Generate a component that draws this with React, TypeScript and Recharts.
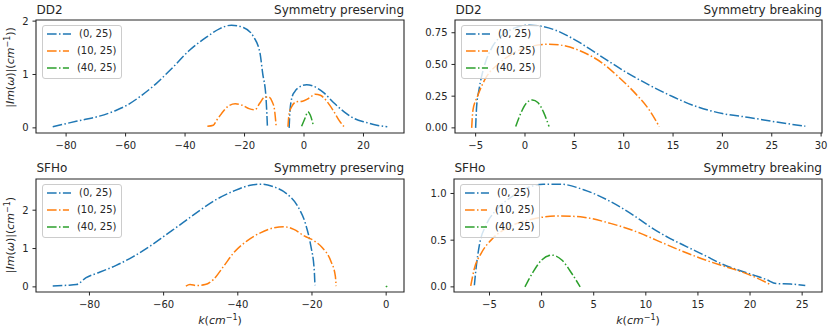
import React from 'react';
import { LineChart, Line, XAxis, YAxis, ReferenceArea, Legend } from 'recharts';

type Pt = [number, number];

// ---------- series ----------
const SERIES_LABELS = ['(0, 25)', '(10, 25)', '(40, 25)'];
const SERIES_COLORS = ['#1f77b4', '#ff7f0e', '#2ca02c'];

// ---------- DD2, symmetry preserving ----------
const DD2_SP_0_25_A: Pt[] = [[-84.5,0.02],[-80,0.08],[-74.4,0.15],[-68.8,0.22],[-63.1,0.33],[-60,0.41],[-55.3,0.58],[-49.7,0.83],[-44,1.14],[-38.4,1.46],[-32.8,1.7],[-28.3,1.86],[-24.4,1.925],[-20.4,1.88],[-17,1.71],[-14.8,1.4],[-13.9,1.02],[-12.8,0.58],[-12.5,0.27],[-12.3,0.02]];
const DD2_SP_0_25_B: Pt[] = [[-5.0,0],[-4.7,0.33],[-4.0,0.58],[-3.1,0.68],[-1.4,0.77],[0.9,0.81],[3.2,0.78],[6.6,0.66],[10,0.47],[13.5,0.3],[16.9,0.175],[21,0.1],[24.5,0.05],[28,0.02]];
const DD2_SP_10_25_A: Pt[] = [[-32.5,0.03],[-30.5,0.05],[-29.4,0.14],[-27.7,0.27],[-25.4,0.41],[-23.1,0.45],[-20.8,0.425],[-18.5,0.36],[-16.5,0.34],[-14.9,0.46],[-13.4,0.57],[-11.9,0.58],[-10.7,0.49],[-9.9,0.33],[-9.4,0.05]];
const DD2_SP_10_25_B: Pt[] = [[-5.4,0.02],[-5.0,0.27],[-4.2,0.39],[-2.5,0.49],[-0.5,0.5],[1.5,0.55],[3.8,0.63],[5.5,0.61],[7.8,0.49],[10.1,0.3],[11.8,0.14],[13.5,0.02]];
const DD2_SP_40_25: Pt[] = [[-0.8,0.03],[0.3,0.175],[1.3,0.3],[2.1,0.24],[3.2,0.03]];

// ---------- DD2, symmetry breaking ----------
const DD2_SB_0_25: Pt[] = [[-5,0],[-4.9,0.166],[-4.66,0.3],[-4.15,0.48],[-3.3,0.64],[-2.3,0.73],[-0.94,0.79],[0.41,0.81],[1.76,0.8],[3.1,0.77],[5.15,0.69],[7.2,0.59],[9.9,0.455],[12.6,0.337],[15,0.245],[17.3,0.17],[20,0.113],[22.7,0.082],[25.4,0.047],[28.4,0.013]];
const DD2_SB_10_25: Pt[] = [[-5.4,0],[-5.27,0.14],[-4.83,0.245],[-4.0,0.39],[-2.6,0.51],[-0.94,0.6],[0.75,0.645],[2.44,0.66],[4.13,0.645],[5.8,0.6],[7.85,0.51],[9.5,0.4],[11.2,0.27],[12.6,0.14],[13.6,0.01]];
const DD2_SB_40_25: Pt[] = [[-0.94,0.01],[-0.4,0.12],[0.2,0.2],[0.75,0.22],[1.3,0.2],[1.9,0.12],[2.44,0.01]];

// ---------- SFHo, symmetry preserving ----------
const SFHO_SP_0_25: Pt[] = [[-89.9,0.02],[-86.3,0.04],[-83.5,0.06],[-80.9,0.24],[-77.3,0.38],[-72.8,0.56],[-68.2,0.79],[-63.7,1.06],[-59.2,1.37],[-54.7,1.68],[-50.2,2.0],[-45.6,2.29],[-41.1,2.5],[-36.6,2.65],[-33.4,2.68],[-30.3,2.61],[-26.7,2.42],[-23.9,2.11],[-21.7,1.63],[-20.3,1.06],[-19.4,0.45],[-19.2,0.04]];
const SFHO_SP_10_25: Pt[] = [[-54,0.02],[-52.9,0.06],[-51.1,0.035],[-48.8,0.06],[-46.6,0.19],[-43.8,0.54],[-41.1,0.89],[-37.5,1.2],[-33.9,1.41],[-30.3,1.54],[-27.6,1.57],[-24.9,1.5],[-22.1,1.33],[-19.4,1.2],[-17.2,1.02],[-14.9,0.67],[-13.7,0.28],[-13.5,0.02]];
const SFHO_SP_40_25: Pt[] = [[-0.1,0],[0.3,0.02]];

// ---------- SFHo, symmetry breaking ----------
const SFHO_SB_0_25: Pt[] = [[-6.45,0.017],[-6.29,0.197],[-5.97,0.447],[-5.32,0.663],[-4.35,0.824],[-3.06,0.95],[-1.45,1.057],[0.16,1.1],[1.78,1.1],[4.03,1.04],[6.6,0.914],[9.04,0.75],[10.8,0.615],[12.3,0.52],[14.0,0.426],[15.65,0.337],[17.27,0.247],[19,0.175],[20.5,0.12],[21.6,0.077],[22.5,0.035],[23.9,0.03],[25.3,0.014]];
const SFHO_SB_10_25: Pt[] = [[-6.8,0.01],[-6.45,0.197],[-5.8,0.358],[-4.68,0.52],[-3.06,0.645],[-0.81,0.727],[1.78,0.76],[4.03,0.745],[6.6,0.68],[9.5,0.573],[11,0.5],[14,0.36],[15.65,0.29],[17.27,0.229],[19,0.168],[20.5,0.103],[21.94,0.025]];
const SFHO_SB_40_25: Pt[] = [[-1.6,0],[-0.81,0.16],[0,0.287],[0.97,0.34],[1.94,0.287],[2.9,0.143],[3.7,0.0]];

// ---------- ticks ----------
const X_TICKS_DD2_SP = [-80, -60, -40, -20, 0, 20];
const Y_TICKS_DD2_SP = [0, 1, 2];
const X_TICKS_DD2_SB = [-5, 0, 5, 10, 15, 20, 25, 30];
const Y_TICKS_DD2_SB = [0, 0.25, 0.5, 0.75];
const X_TICKS_SFHO_SP = [-80, -60, -40, -20, 0];
const Y_TICKS_SFHO_SP = [0, 1, 2];
const X_TICKS_SFHO_SB = [-5, 0, 5, 10, 15, 20, 25];
const Y_TICKS_SFHO_SB = [0, 0.5, 1.0];

// ---------- styling ----------
const DASH = '9.6 2.4 1.5 2.4';
const FONT = '"DejaVu Sans", sans-serif';
const AX = '#262626';

interface Seg { s: number; pts: Pt[] }
interface PanelDef {
  id: string;
  left: number; top: number; width: number; height: number;
  mTop: number; mRight: number; yWidth: number; xHeight: number;
  xTicks: number[]; yTicks: number[]; yDigits: number;
  segs: Seg[];
  yLabel: null | { cy: number; extra: boolean };
  xLabel: boolean;
}

const PANELS: PanelDef[] = [
  {
    id: 'p1', left: 0, top: 0, width: 415, height: 166, mTop: 20, mRight: 11, yWidth: 36, xHeight: 33,
    xTicks: X_TICKS_DD2_SP, yTicks: Y_TICKS_DD2_SP, yDigits: 0,
    segs: [
      { s: 0, pts: DD2_SP_0_25_A }, { s: 0, pts: DD2_SP_0_25_B },
      { s: 1, pts: DD2_SP_10_25_A }, { s: 1, pts: DD2_SP_10_25_B },
      { s: 2, pts: DD2_SP_40_25 },
    ],
    yLabel: { cy: 67.5, extra: true }, xLabel: false,
  },
  {
    id: 'p2', left: 415, top: 0, width: 415, height: 166, mTop: 20, mRight: 8, yWidth: 40, xHeight: 33,
    xTicks: X_TICKS_DD2_SB, yTicks: Y_TICKS_DD2_SB, yDigits: 2,
    segs: [{ s: 0, pts: DD2_SB_0_25 }, { s: 1, pts: DD2_SB_10_25 }, { s: 2, pts: DD2_SB_40_25 }],
    yLabel: null, xLabel: false,
  },
  {
    id: 'p3', left: 0, top: 166, width: 415, height: 166, mTop: 13, mRight: 11, yWidth: 36, xHeight: 40,
    xTicks: X_TICKS_SFHO_SP, yTicks: Y_TICKS_SFHO_SP, yDigits: 0,
    segs: [{ s: 0, pts: SFHO_SP_0_25 }, { s: 1, pts: SFHO_SP_10_25 }, { s: 2, pts: SFHO_SP_40_25 }],
    yLabel: { cy: 69, extra: false }, xLabel: true,
  },
  {
    id: 'p4', left: 415, top: 166, width: 415, height: 166, mTop: 13, mRight: 8, yWidth: 39, xHeight: 40,
    xTicks: X_TICKS_SFHO_SB, yTicks: Y_TICKS_SFHO_SB, yDigits: 1,
    segs: [{ s: 0, pts: SFHO_SB_0_25 }, { s: 1, pts: SFHO_SB_10_25 }, { s: 2, pts: SFHO_SB_40_25 }],
    yLabel: null, xLabel: true,
  },
];

const TITLES = [
  { left: 'DD2', right: 'Symmetry preserving', x0: 36, x1: 404, y: 14 },
  { left: 'DD2', right: 'Symmetry breaking', x0: 455, x1: 822, y: 14 },
  { left: 'SFHo', right: 'Symmetry preserving', x0: 36, x1: 404, y: 172 },
  { left: 'SFHo', right: 'Symmetry breaking', x0: 454, x1: 822, y: 172 },
];

function padded(vals: number[]): [number, number] {
  const mn = Math.min(...vals);
  const mx = Math.max(...vals);
  const p = (mx - mn) * 0.05;
  return [mn - p, mx + p];
}

function fmt(v: number, d: number): string {
  const s = v.toFixed(d);
  return s.startsWith('-') ? '\u2212' + s.slice(1) : s;
}

const LegendBox = () => (
  <div
    style={{
      background: 'rgba(255,255,255,0.8)',
      border: '1px solid #cccccc',
      borderRadius: 3,
      padding: '0px 4px 2px 4.5px',
      fontFamily: FONT,
      fontSize: 10,
      color: AX,
      boxSizing: 'border-box',
      width: 80,
    }}
  >
    {SERIES_LABELS.map((l, i) => (
      <div key={l} style={{ display: 'flex', alignItems: 'center', height: 16.7 }}>
        <svg width={24} height={4} style={{ display: 'block' }}>
          <line x1={0} y1={2} x2={24} y2={2} stroke={SERIES_COLORS[i]} strokeWidth={1.5} strokeDasharray={DASH} />
        </svg>
        <span style={{ marginLeft: 8, whiteSpace: 'nowrap', lineHeight: '12px' }}>{l}</span>
      </div>
    ))}
  </div>
);

function YLabel(x: number, y: number, extra: boolean) {
  return (
    <text
      x={x}
      y={y}
      transform={`rotate(-90 ${x} ${y})`}
      textAnchor="middle"
      fontFamily={FONT}
      fontSize={11}
      fill={AX}
    >
      <tspan>|</tspan>
      <tspan fontStyle="italic">Im</tspan>
      <tspan>(</tspan>
      <tspan fontStyle="italic">ω</tspan>
      <tspan>)|(</tspan>
      <tspan fontStyle="italic">cm</tspan>
      <tspan dy={-4.5} fontSize={8}>{'\u22121'}</tspan>
      <tspan dy={4.5}>{extra ? '))' : ')'}</tspan>
    </text>
  );
}

function XLabel(cx: number, y: number) {
  return (
    <text x={cx} y={y} textAnchor="middle" fontFamily={FONT} fontSize={11} fill={AX}>
      <tspan fontStyle="italic">k</tspan>
      <tspan>(</tspan>
      <tspan fontStyle="italic">cm</tspan>
      <tspan dy={-4.5} fontSize={8}>{'\u22121'}</tspan>
      <tspan dy={4.5}>)</tspan>
    </text>
  );
}

function Panel({ p }: { p: PanelDef }) {
  const allK = p.segs.flatMap((s) => s.pts.map((q) => q[0]));
  const allV = p.segs.flatMap((s) => s.pts.map((q) => q[1]));
  const xd = padded(allK);
  const yd = padded(allV);
  const plotLeft = p.yWidth;
  const plotTop = p.mTop;
  const plotW = p.width - p.yWidth - p.mRight;
  const plotBottom = p.height - p.xHeight;
  return (
    <div style={{ position: 'absolute', left: p.left, top: p.top, width: p.width, height: p.height }}>
      <LineChart
        width={p.width}
        height={p.height}
        margin={{ top: p.mTop, right: p.mRight, left: 0, bottom: 0 }}
      >
        <XAxis
          dataKey="k"
          type="number"
          domain={xd}
          ticks={p.xTicks}
          interval={0}
          allowDataOverflow
          height={p.xHeight}
          axisLine={false}
          tickLine={{ stroke: AX, strokeWidth: 1 }}
          tickSize={3.5}
          tickMargin={5}
          tick={{ fontSize: 10, fill: AX, fontFamily: FONT }}
          tickFormatter={(v: number) => fmt(v, 0)}
          label={p.xLabel ? { content: () => XLabel(plotLeft + plotW / 2, plotBottom + 32) } : undefined}
        />
        <YAxis
          type="number"
          domain={yd}
          ticks={p.yTicks}
          interval={0}
          allowDataOverflow
          width={p.yWidth}
          axisLine={false}
          tickLine={{ stroke: AX, strokeWidth: 1 }}
          tickSize={3.5}
          tickMargin={4}
          tick={{ fontSize: 10, fill: AX, fontFamily: FONT }}
          tickFormatter={(v: number) => fmt(v, p.yDigits)}
          label={p.yLabel ? { content: () => YLabel(14, p.yLabel!.cy, p.yLabel!.extra) } : undefined}
        />
        <ReferenceArea
          x1={xd[0]}
          x2={xd[1]}
          y1={yd[0]}
          y2={yd[1]}
          fill="none"
          fillOpacity={0}
          stroke={AX}
          strokeWidth={1.1}
          ifOverflow="visible"
        />
        {p.segs.map((s, i) => (
          <Line
            key={p.id + '-' + i}
            data={s.pts.map(([k, v]) => ({ k, v }))}
            dataKey="v"
            name={SERIES_LABELS[s.s]}
            type="monotone"
            stroke={SERIES_COLORS[s.s]}
            strokeWidth={1.5}
            strokeDasharray={DASH}
            dot={false}
            activeDot={false}
            legendType="none"
            isAnimationActive={false}
          />
        ))}
        <Legend
          layout="vertical"
          align="center"
          verticalAlign="middle"
          content={() => <LegendBox />}
          wrapperStyle={{ left: plotLeft + 5.5, top: plotTop + 5, width: 80, height: 54 }}
        />
      </LineChart>
    </div>
  );
}

export default function App() {
  return (
    <div style={{ position: 'absolute', left: 0, top: 0, width: 830, height: 332, background: '#ffffff' }}>
      {PANELS.map((p) => (
        <Panel key={p.id} p={p} />
      ))}
      <svg
        width={830}
        height={332}
        style={{ position: 'absolute', left: 0, top: 0, pointerEvents: 'none' }}
      >
        {TITLES.map((t, i) => (
          <g key={i}>
            <text x={t.x0 + 0.5} y={t.y} fontFamily={FONT} fontSize={12} fill={AX}>{t.left}</text>
            <text x={t.x1} y={t.y} fontFamily={FONT} fontSize={12} fill={AX} textAnchor="end">{t.right}</text>
          </g>
        ))}
      </svg>
    </div>
  );
}
